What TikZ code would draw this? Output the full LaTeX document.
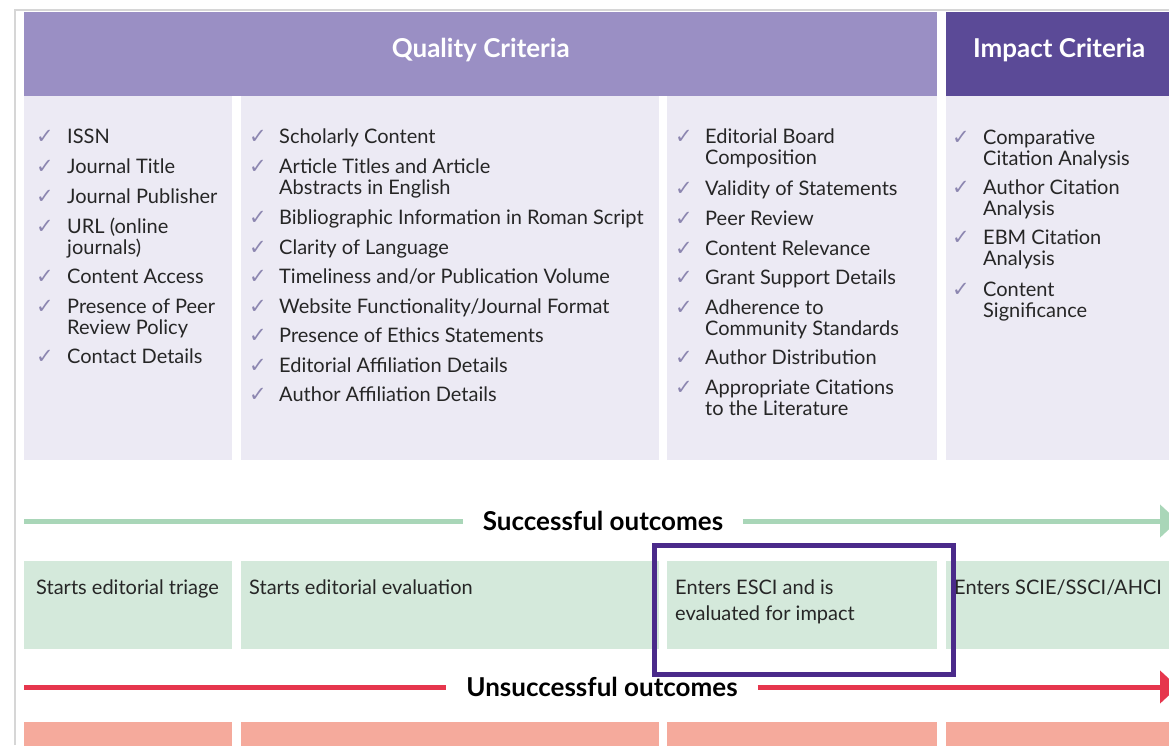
\documentclass[tikz,border=0pt]{standalone}
\usepackage{fontspec}
\setmainfont{Lato}
\newfontfamily\tickfont{DejaVu Sans}
\usetikzlibrary{arrows.meta,positioning}
\definecolor{qualhead}{HTML}{9A8FC4}
\definecolor{imphead}{HTML}{5B4A97}
\definecolor{critbg}{HTML}{ECEAF4}
\definecolor{tickcol}{HTML}{8C86B0}
\definecolor{okline}{HTML}{A9D6B8}
\definecolor{okbox}{HTML}{D4E9DB}
\definecolor{badline}{HTML}{E6364D}
\definecolor{badbox}{HTML}{F5AA9C}
\definecolor{focuscol}{HTML}{4A2A8A}
\definecolor{framecol}{HTML}{D6D6D6}

% lines of one item, baseline on the first line
\newcommand{\toplines}[1]{\begin{tabular}[t]{@{}l@{}}#1\end{tabular}}

\tikzset{
  headbox/.style={draw=none, text=white, anchor=north west, inner sep=0pt,
    font=\bfseries\fontsize{26}{30}\selectfont},
  colbox/.style={fill=critbg, draw=none, anchor=north west, inner sep=0pt},
  okcell/.style={fill=okbox, draw=none, anchor=north west, inner sep=0pt},
  badcell/.style={fill=badbox, draw=none, anchor=north west, inner sep=0pt},
  tick/.style={text=tickcol, anchor=base, inner sep=0pt,
    font=\tickfont\fontsize{21}{21}\selectfont},
  critem/.style={anchor=base west, inner sep=0pt, text=black!85,
    font=\fontsize{20}{21}\selectfont},
  outtext/.style={anchor=base west, inner sep=0pt, text=black!85,
    font=\fontsize{20}{26}\selectfont},
  outlabel/.style={inner ysep=2pt, inner xsep=20pt,
    font=\bfseries\fontsize{26}{30}\selectfont},
  okarrow/.style={draw=okline, line width=5pt},
  badarrow/.style={draw=badline, line width=5pt},
  focusbox/.style={draw=focuscol, line width=5pt, anchor=north west, inner sep=0pt}
}

\begin{document}
\begin{tikzpicture}[x=1pt, y=-1pt]
  \useasboundingbox (0,0) rectangle (1169,745);
  \clip (0,0) rectangle (1169,745);
  \fill[white] (0,0) rectangle (1169,745);

  % outer frame
  \draw[framecol, line width=2pt] (15,745) -- (15,10) -- (1169,10);

  % headers
  \node[headbox, fill=qualhead, minimum width=913, minimum height=84] (qhead) at (24,12) {\raisebox{12pt}{Quality Criteria}};
  \node[headbox, fill=imphead, minimum width=226, minimum height=84] (ihead) at (946,12) {\raisebox{12pt}{Impact Criteria}};

  % criteria columns
  \node[colbox, minimum width=208, minimum height=364] (q1) at (24,96) {};
  \node[colbox, minimum width=418, minimum height=364] (q2) at (241,96) {};
  \node[colbox, minimum width=270, minimum height=364] (q3) at (667,96) {};
  \node[colbox, minimum width=226, minimum height=364] (imp) at (946,96) {};

  % items, first column
  \foreach \b/\txt in {143/ISSN, 173/Journal Title, 203/Journal Publisher,
      233/{URL (online\\journals)}, 283/Content Access,
      313/{Presence of Peer\\Review Policy}, 363/Contact Details} {
    \node[tick] at (45,\b) {✓};
    \node[critem] at (67,\b) {\toplines{\txt}};
  }
  % items, second column
  \foreach \b/\txt in {143/Scholarly Content, 173/{Article Titles and Article\\Abstracts in English},
      224/Bibliographic Information in Roman Script, 254/Clarity of Language,
      283/{Timeliness and/or Publication Volume}, 313/{Website Functionality/Journal Format},
      342/Presence of Ethics Statements, 372/Editorial Affiliation Details,
      401/Author Affiliation Details} {
    \node[tick] at (258,\b) {✓};
    \node[critem] at (279,\b) {\toplines{\txt}};
  }
  % items, third column
  \foreach \b/\txt in {143/{Editorial Board\\Composition}, 195/Validity of Statements,
      225/Peer Review, 255/Content Relevance, 284/Grant Support Details,
      314/{Adherence to\\Community Standards}, 364/Author Distribution,
      394/{Appropriate Citations\\to the Literature}} {
    \node[tick] at (684,\b) {✓};
    \node[critem] at (705,\b) {\toplines{\txt}};
  }
  % items, impact column
  \foreach \b/\txt in {144/{Comparative\\Citation Analysis}, 194/{Author Citation\\Analysis},
      244/{EBM Citation\\Analysis}, 296/{Content\\Significance}} {
    \node[tick] at (961,\b) {✓};
    \node[critem] at (983,\b) {\toplines{\txt}};
  }

  % successful outcomes
  \node[outlabel] (succ) at (603,521) {Successful outcomes};
  \coordinate (okstart) at (24,521);
  \coordinate (okend) at (1178,521);
  \draw[okarrow] (okstart) -- (succ);
  \draw[okarrow, -{Triangle[length=18pt, width=32pt]}] (succ) -- (okend);

  \node[okcell, minimum width=208, minimum height=88] (ok1) at (24,561) {};
  \node[okcell, minimum width=418, minimum height=88] (ok2) at (241,561) {};
  \node[okcell, minimum width=270, minimum height=88] (ok3) at (667,561) {};
  \node[okcell, minimum width=226, minimum height=88] (ok4) at (946,561) {};
  \node[outtext] (t1) at (36,594) {Starts editorial triage};
  \node[outtext] (t2) at (249,594) {Starts editorial evaluation};
  \node[outtext] (t3) at (675,594) {\toplines{Enters ESCI and is\\evaluated for impact}};
  \node[outtext] (t4) at (954,594) {Enters SCIE/SSCI/AHCI};

  % unsuccessful outcomes
  \node[outlabel] (unsucc) at (602,687) {Unsuccessful outcomes};
  \coordinate (badstart) at (24,687);
  \coordinate (badend) at (1178,687);
  \draw[badarrow] (badstart) -- (unsucc);
  \draw[badarrow, -{Triangle[length=18pt, width=32pt]}] (unsucc) -- (badend);

  \node[badcell, minimum width=208, minimum height=40] (bad1) at (24,722) {};
  \node[badcell, minimum width=418, minimum height=40] (bad2) at (241,722) {};
  \node[badcell, minimum width=270, minimum height=40] (bad3) at (667,722) {};
  \node[badcell, minimum width=226, minimum height=40] (bad4) at (946,722) {};

  % highlight
  \node[focusbox, minimum width=299, minimum height=129] (focus) at (652,543) {};
\end{tikzpicture}
\end{document}
